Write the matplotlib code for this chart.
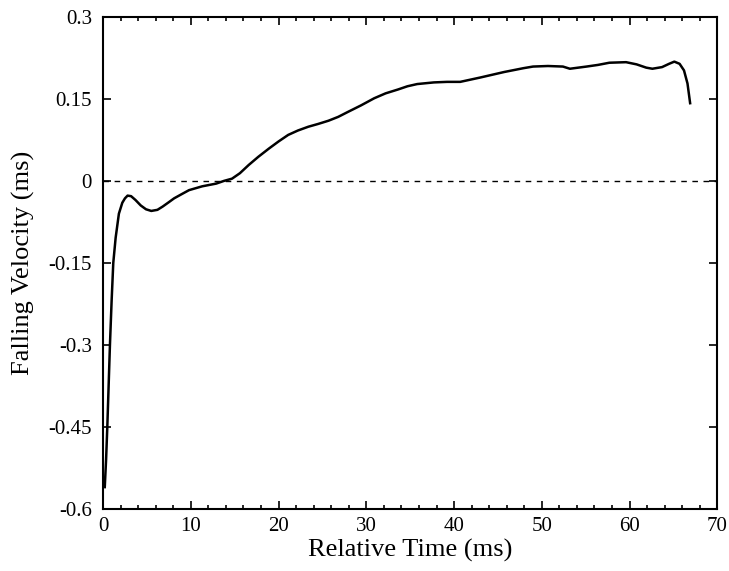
import numpy as np
import matplotlib.pyplot as plt
from matplotlib.ticker import MultipleLocator, FixedLocator, FixedFormatter

plt.rcParams['font.family'] = ['Liberation Serif', 'DejaVu Serif']

# relative time (ms) and falling velocity
time_ms = [0.2, 0.35, 0.49, 0.65, 0.79, 0.98, 1.17, 1.44, 1.81, 2.2, 2.5, 2.8,
           3.2, 3.7, 4.3, 4.9, 5.5, 6.2, 6.8, 7.5, 8.1, 9.0, 9.8, 11.3, 12.9,
           13.8, 14.7, 15.6, 16.6, 17.7, 18.9, 20.0, 21.1, 22.2, 23.4, 24.5,
           25.7, 26.8, 27.9, 29.4, 30.9, 32.2, 33.6, 34.7, 35.8, 37.7, 39.2,
           40.7, 43.0, 45.7, 47.9, 49.0, 50.7, 52.4, 53.2, 55.1, 56.4, 57.7,
           59.6, 60.8, 61.9, 62.6, 63.7, 64.5, 65.1, 65.7, 66.2, 66.6, 66.9]
velocity = [-0.56, -0.51, -0.45, -0.37, -0.30, -0.22, -0.15, -0.104, -0.06, -0.04,
            -0.032, -0.027, -0.028, -0.035, -0.045, -0.052, -0.055, -0.053, -0.047,
            -0.039, -0.032, -0.024, -0.017, -0.01, -0.005, 0.0, 0.004, 0.014,
            0.029, 0.044, 0.059, 0.072, 0.084, 0.092, 0.099, 0.104, 0.11, 0.117,
            0.126, 0.138, 0.151, 0.16, 0.167, 0.173, 0.177, 0.18, 0.181, 0.181,
            0.189, 0.199, 0.206, 0.209, 0.21, 0.209, 0.205, 0.209, 0.212, 0.216,
            0.217, 0.213, 0.207, 0.205, 0.208, 0.214, 0.218, 0.214, 0.202, 0.178,
            0.142]

y_ticks = [-0.6, -0.45, -0.3, -0.15, 0, 0.15, 0.3]
y_tick_labels = ['-0.6', '-0.45', '-0.3', '-0.15', '0', '0.15', '0.3']

fig = plt.figure(figsize=(7.29, 5.71), dpi=100)
ax = fig.add_axes([0.1413, 0.1086, 0.8427, 0.862])

ax.axhline(0, color='black', lw=1.0, ls=(0, (4, 4)))
ax.plot(time_ms, velocity, color='black', lw=1.8)

ax.set_xlim(0, 70)
ax.set_ylim(-0.6, 0.3)
ax.xaxis.set_major_locator(MultipleLocator(10))
ax.xaxis.set_minor_locator(MultipleLocator(2))
ax.yaxis.set_major_locator(FixedLocator(y_ticks))
ax.yaxis.set_major_formatter(FixedFormatter(y_tick_labels))

ax.tick_params(which='both', direction='in', top=True, right=True,
               labelsize=15, width=1.2)
ax.tick_params(which='major', length=6)
ax.tick_params(axis='x', which='major', pad=6)
ax.tick_params(axis='y', which='major', pad=8)
ax.tick_params(which='minor', length=3)
for s in ax.spines.values():
    s.set_linewidth(1.5)

ax.set_xlabel('Relative Time (ms)', fontsize=19, labelpad=2)
ax.set_ylabel('Falling Velocity (ms)', fontsize=19, labelpad=10)

fig.savefig('out.png', dpi=100)
